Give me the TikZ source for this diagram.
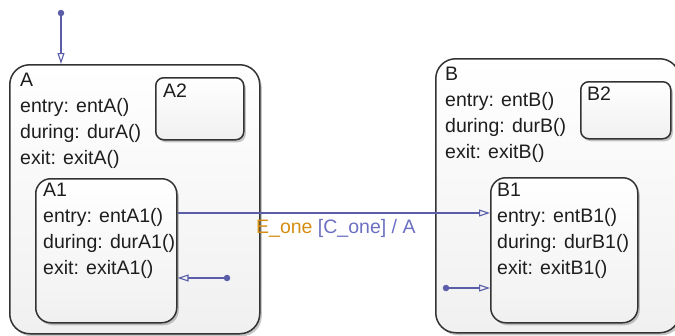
\documentclass[tikz,border=0pt]{standalone}
\usepackage{fontspec}
\setmainfont{Liberation Sans}
\usetikzlibrary{arrows.meta,shadows,positioning}
\definecolor{stateD}{HTML}{333333}
\definecolor{stateF}{HTML}{F0F0F0}
\definecolor{transC}{HTML}{5A5EA8}
\definecolor{evtC}{HTML}{D58E12}
\definecolor{condC}{HTML}{6B70C2}
\definecolor{actC}{HTML}{1E1E1E}
\tikzset{
  state/.style={draw=stateD, line width=1.5pt, top color=white, bottom color=stateF, anchor=north west,
                inner sep=0pt, drop shadow={shadow xshift=2pt, shadow yshift=-2.5pt, opacity=0.45}},
  trans/.style={draw=transC, line width=1.1pt, -{Triangle[open,length=11pt,width=7pt]}},
  dot/.style={circle, fill=transC, inner sep=0pt, minimum size=6.5pt},
  txt/.style={anchor=north west, align=left, inner sep=0pt, font=\fontsize{19.5}{26}\selectfont, text=actC},
  lab/.style={anchor=base west, inner sep=0pt, font=\fontsize{19.5}{26}\selectfont},
}
\begin{document}
\begin{tikzpicture}[x=1pt,y=-1pt]
\useasboundingbox (0,0) rectangle (675,335);
% superstate A
\node[state, rounded corners=20pt, minimum width=250pt, minimum height=269pt] (A) at (9,64) {};
\node[txt] (Atxt) at (20,73) {A\\entry: entA()\\during: durA()\\exit: exitA()};
\node[state, rounded corners=8pt, minimum width=88pt, minimum height=62pt] (A2) at (155,77) {};
\node[txt] (A2txt) at (163,84) {A2};
\node[state, rounded corners=15pt, minimum width=141pt, minimum height=144pt] (A1) at (35,178) {};
\node[txt] (A1txt) at (43,183) {A1\\entry: entA1()\\during: durA1()\\exit: exitA1()};
% superstate B
\node[state, rounded corners=20pt, minimum width=244pt, minimum height=274pt] (B) at (435,58) {};
\node[txt] (Btxt) at (445,67) {B\\entry: entB()\\during: durB()\\exit: exitB()};
\node[state, rounded corners=8pt, minimum width=90pt, minimum height=57pt] (B2) at (580,81) {};
\node[txt] (B2txt) at (587,87) {B2};
\node[state, rounded corners=15pt, minimum width=147pt, minimum height=145pt] (B1) at (490,177) {};
\node[txt] (B1txt) at (497,183) {B1\\entry: entB1()\\during: durB1()\\exit: exitB1()};
% transitions
\coordinate (t1) at (0,213);
\draw[trans] (A1.east |- t1) -- node[lab, pos=0.25, yshift=-20pt] (tlab)
  {\textcolor{evtC}{E\_one} \textcolor{condC}{[C\_one] / A}} (B1.west |- t1);
\node[dot] (d0) at (61,13) {};
\draw[trans] (d0) -- (A.north -| d0);
\node[dot] (d1) at (227,278) {};
\draw[trans] (d1) -- (d1 -| A1.east);
\node[dot] (d2) at (446,288) {};
\draw[trans] (d2) -- (d2 -| B1.west);
\end{tikzpicture}
\end{document}
